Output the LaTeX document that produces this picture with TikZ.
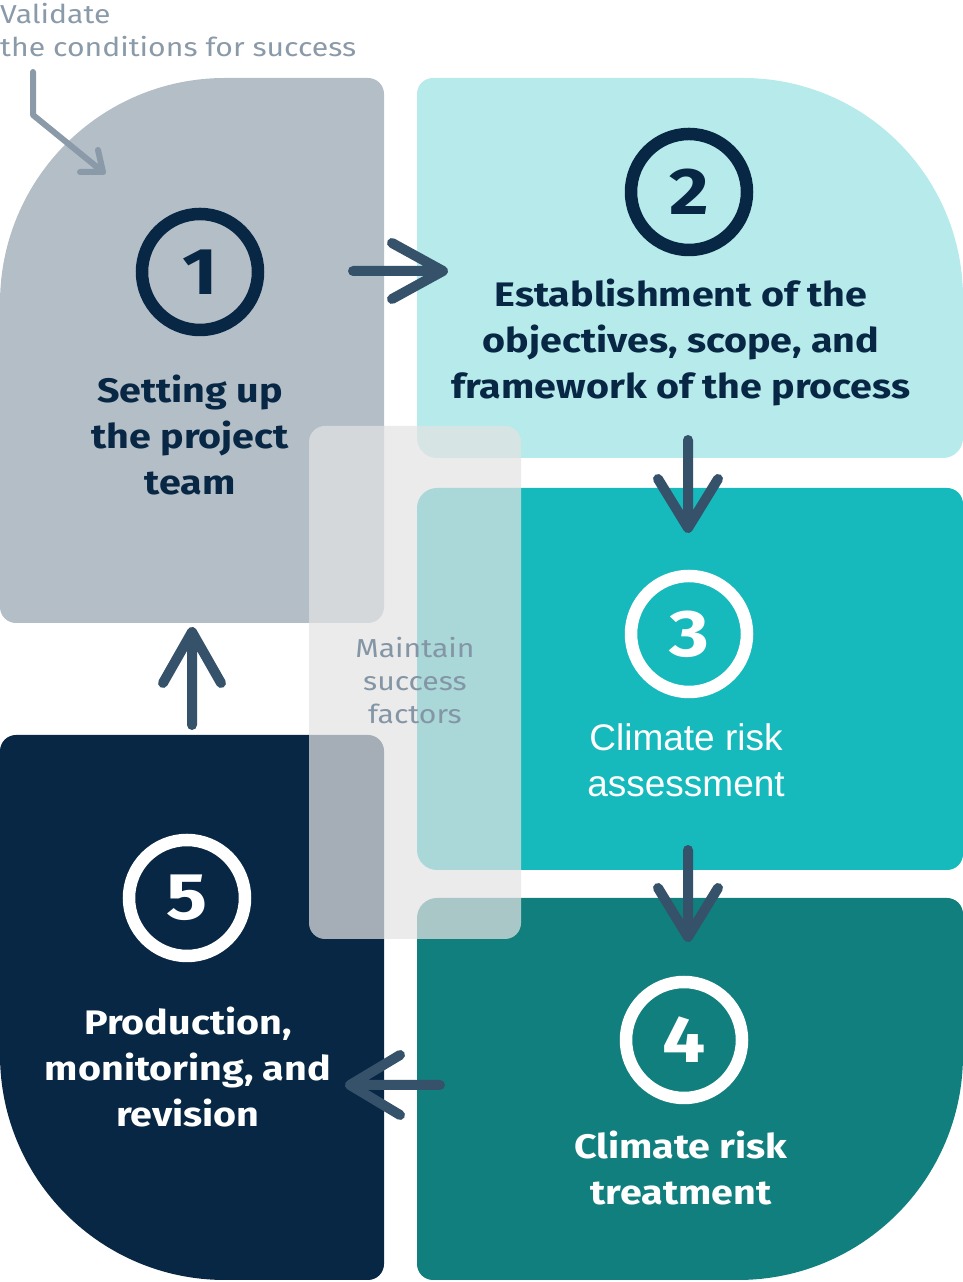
\documentclass[tikz,border=0pt]{standalone}
\usepackage{fontspec}
\setmainfont{Fira Sans}[FakeStretch=1.16]
\newfontfamily\arialfont{Liberation Sans}
\usetikzlibrary{calc}
\definecolor{cgray}{HTML}{B4BEC7}
\definecolor{ccyan}{HTML}{B7EAEA}
\definecolor{cteal}{HTML}{17BABC}
\definecolor{cdteal}{HTML}{117F7E}
\definecolor{cnavy}{HTML}{072744}
\definecolor{carrow}{HTML}{36526B}
\definecolor{canno}{HTML}{8A9AA8}
\definecolor{cmaint}{HTML}{8496A5}
\definecolor{cover}{HTML}{E3E3E3}
% rounded rectangle with individual corner radii: x1 y1 x2 y2 rBL rBR rTR rTL style
\newcommand\rrfill[9]{%
  \fill[#9] (#1,#2+#5) -- (#1,#4-#8) arc[start angle=180,end angle=90,radius=#8]
    -- (#3-#7,#4) arc[start angle=90,end angle=0,radius=#7]
    -- (#3,#2+#6) arc[start angle=0,end angle=-90,radius=#6]
    -- (#1+#5,#2) arc[start angle=270,end angle=180,radius=#5] -- cycle;}
\begin{document}
\begin{tikzpicture}[x=1pt,y=1pt,
  boxtext/.style={align=center,font=\fontsize{34}{46}\selectfont\bfseries},
  numcircle/.style={circle,draw,line width=12.5pt,minimum size=116pt,inner sep=0pt,
    font=\fontsize{66}{66}\selectfont\bfseries},
  flow/.style={draw=carrow,line width=10pt,line cap=round,line join=round},
  annoline/.style={draw=canno,line width=6pt,line cap=round,line join=round},
]
\useasboundingbox (0,0) rectangle (963,1282);
% boxes
\rrfill{0}{659}{384}{1204}{16}{16}{16}{225}{cgray}
\rrfill{417}{824}{963}{1204}{20}{20}{220}{16}{ccyan}
\rrfill{417}{412}{963}{794}{20}{16}{16}{20}{cteal}
\rrfill{417}{2}{963}{384}{16}{225}{16}{20}{cdteal}
\rrfill{0}{2}{384}{547}{225}{16}{16}{16}{cnavy}
% overlay
\rrfill{309}{343}{521}{856}{16}{16}{16}{16}{cover,fill opacity=0.72}
% number circles
\node[numcircle,draw=cnavy,text=cnavy] (n1) at (200,1010) {1};
\node[numcircle,draw=cnavy,text=cnavy] (n2) at (689,1090) {2};
\node[numcircle,draw=white,text=white] (n3) at (689,648) {3};
\node[numcircle,draw=white,text=white] (n4) at (684,242) {4};
\node[numcircle,draw=white,text=white] (n5) at (187,384) {5};
% texts
\node[boxtext,text=cnavy] (t1) at (190,847) {Setting up\\the project\\team};
\node[boxtext,text=cnavy] (t2) at (681,940) {Establishment of the\\objectives, scope, and\\framework of the process};
\node[align=center,text=white,font=\arialfont\fontsize{37}{46}\selectfont] (t3) at (686,522) {Climate risk\\assessment};
\node[boxtext,text=white] (t4) at (681,114) {Climate risk\\treatment};
\node[boxtext,text=white] (t5) at (188,215) {Production,\\monitoring, and\\revision};
\node[align=center,text=cmaint,font=\fontsize{26}{33}\selectfont] (t6) at (415,601) {Maintain\\success\\factors};
\node[anchor=north west,align=left,inner sep=0pt,text=canno,font=\fontsize{26}{33}\selectfont] (va) at (0,1279) {Validate\\the conditions for success};
% annotation arrow
\coordinate (vs) at (33,1210);
\coordinate (vb) at (33,1167);
\coordinate (ve) at (103,1110);
\draw[annoline] (vs) -- (vb) -- (ve) -- ++(-23,0) (ve) -- ++(-5,22);
% flow arrows
\coordinate (a12s) at (353,1011); \coordinate (a12e) at (443,1011);
\coordinate (a23s) at (688,842);  \coordinate (a23e) at (688,754);
\coordinate (a34s) at (688,432);  \coordinate (a34e) at (688,345);
\coordinate (a45s) at (440,197);  \coordinate (a45e) at (350,197);
\coordinate (a51s) at (192,557);  \coordinate (a51e) at (192,650);
\draw[flow] (a12s) -- (a12e) -- ++(-51,28) (a12e) -- ++(-51,-28);
\draw[flow] (a23s) -- (a23e) -- ++(-30,49) (a23e) -- ++(30,49);
\draw[flow] (a34s) -- (a34e) -- ++(-30,49) (a34e) -- ++(30,49);
\draw[flow] (a45s) -- (a45e) -- ++(50,30) (a45e) -- ++(50,-30);
\draw[flow] (a51s) -- (a51e) -- ++(-29,-51) (a51e) -- ++(29,-51);
\end{tikzpicture}
\end{document}
